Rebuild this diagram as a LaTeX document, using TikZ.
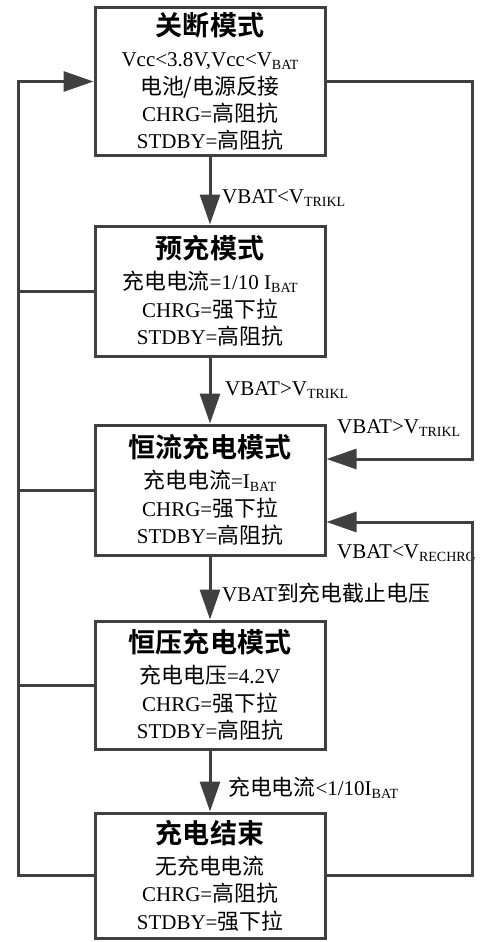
\documentclass[tikz,border=0pt]{standalone}
\usepackage{fontspec}
\usetikzlibrary{arrows.meta}
\setmainfont{Liberation Serif}
\newfontfamily\cjk[Scale=1.04,BoldFont={Noto Sans CJK SC Bold}]{Noto Sans CJK SC}
\newcommand\zh[1]{{\cjk #1}}
\newcommand\sub[1]{\raisebox{-0.3ex}{\fontsize{14}{14}\selectfont #1}}
\newcommand\tit[1]{{\cjk\bfseries\fontsize{26}{34}\selectfont #1}}
\definecolor{ln}{HTML}{404040}
\tikzset{
  box/.style={draw=ln, line width=3pt, minimum width=230pt, inner sep=0pt,
    align=center, font=\fontsize{21}{27.3}\selectfont},
  conn/.style={draw=ln, line width=3pt},
  arr/.style={conn, -{Triangle[length=30pt,width=20pt]}},
  lab/.style={anchor=west, inner sep=0pt, font=\fontsize{21}{24}\selectfont}
}
\begin{document}
\begin{tikzpicture}[x=1pt,y=-1pt]
\useasboundingbox (0,0) rectangle (483,942);
\node[box, minimum height=147pt] (b1) at (210,81.5)
  {\tit{关断模式}\\[4pt] Vcc<3.8V,Vcc<V\sub{BAT}\\ \zh{电池/电源反接}\\ CHRG=\zh{高阻抗}\\ STDBY=\zh{高阻抗}};
\node[box, minimum height=130pt] (b2) at (210,291)
  {\tit{预充模式}\\[4pt] \zh{充电电流}=1/10 I\sub{BAT}\\ CHRG=\zh{强下拉}\\ STDBY=\zh{高阻抗}};
\node[box, minimum height=130pt] (b3) at (210,490)
  {\tit{恒流充电模式}\\[4pt] \zh{充电电流}=I\sub{BAT}\\ CHRG=\zh{强下拉}\\ STDBY=\zh{高阻抗}};
\node[box, minimum height=128pt] (b4) at (210,685)
  {\tit{恒压充电模式}\\[4pt] \zh{充电电压}=4.2V\\ CHRG=\zh{强下拉}\\ STDBY=\zh{高阻抗}};
\node[box, minimum height=125pt] (b5) at (210,875.5)
  {\tit{充电结束}\\[4pt] \zh{无充电电流}\\ CHRG=\zh{高阻抗}\\ STDBY=\zh{强下拉}};

\draw[arr] (b1.south) -- (b2.north);
\draw[arr] (b2.south) -- (b3.north);
\draw[arr] (b3.south) -- (b4.north);
\draw[arr] (b4.south) -- (b5.north);

\node[lab] (l1) at (222,198) {VBAT<V\sub{TRIKL}};
\node[lab] (l2) at (225,390) {VBAT>V\sub{TRIKL}};
\node[lab] (l5) at (222,593) {VBAT\zh{到充电截止电压}};
\node[lab] (l6) at (228,788) {\zh{充电电流}<1/10I\sub{BAT}};
\node[lab] (l3) at (337,428) {VBAT>V\sub{TRIKL}};
\node[lab] (l4) at (337,553) {VBAT<V\sub{RECHRG}};

\coordinate (lx) at (18,0);
\coordinate (rx) at (472,0);
\coordinate (r3a) at ([yshift=31pt]b3.east);
\coordinate (r3b) at ([yshift=-32pt]b3.east);

\draw[arr] (b5.west) -- (b5.west -| lx) -- (b1.west -| lx) -- (b1.west);
\draw[conn] (b2.west) -- (b2.west -| lx);
\draw[conn] (b3.west) -- (b3.west -| lx);
\draw[conn] (b4.west) -- (b4.west -| lx);

\draw[arr] (b1.east) -- (b1.east -| rx) -- (r3a -| rx) -- (r3a);
\draw[arr] (b5.east) -- (b5.east -| rx) -- (r3b -| rx) -- (r3b);
\end{tikzpicture}
\end{document}
